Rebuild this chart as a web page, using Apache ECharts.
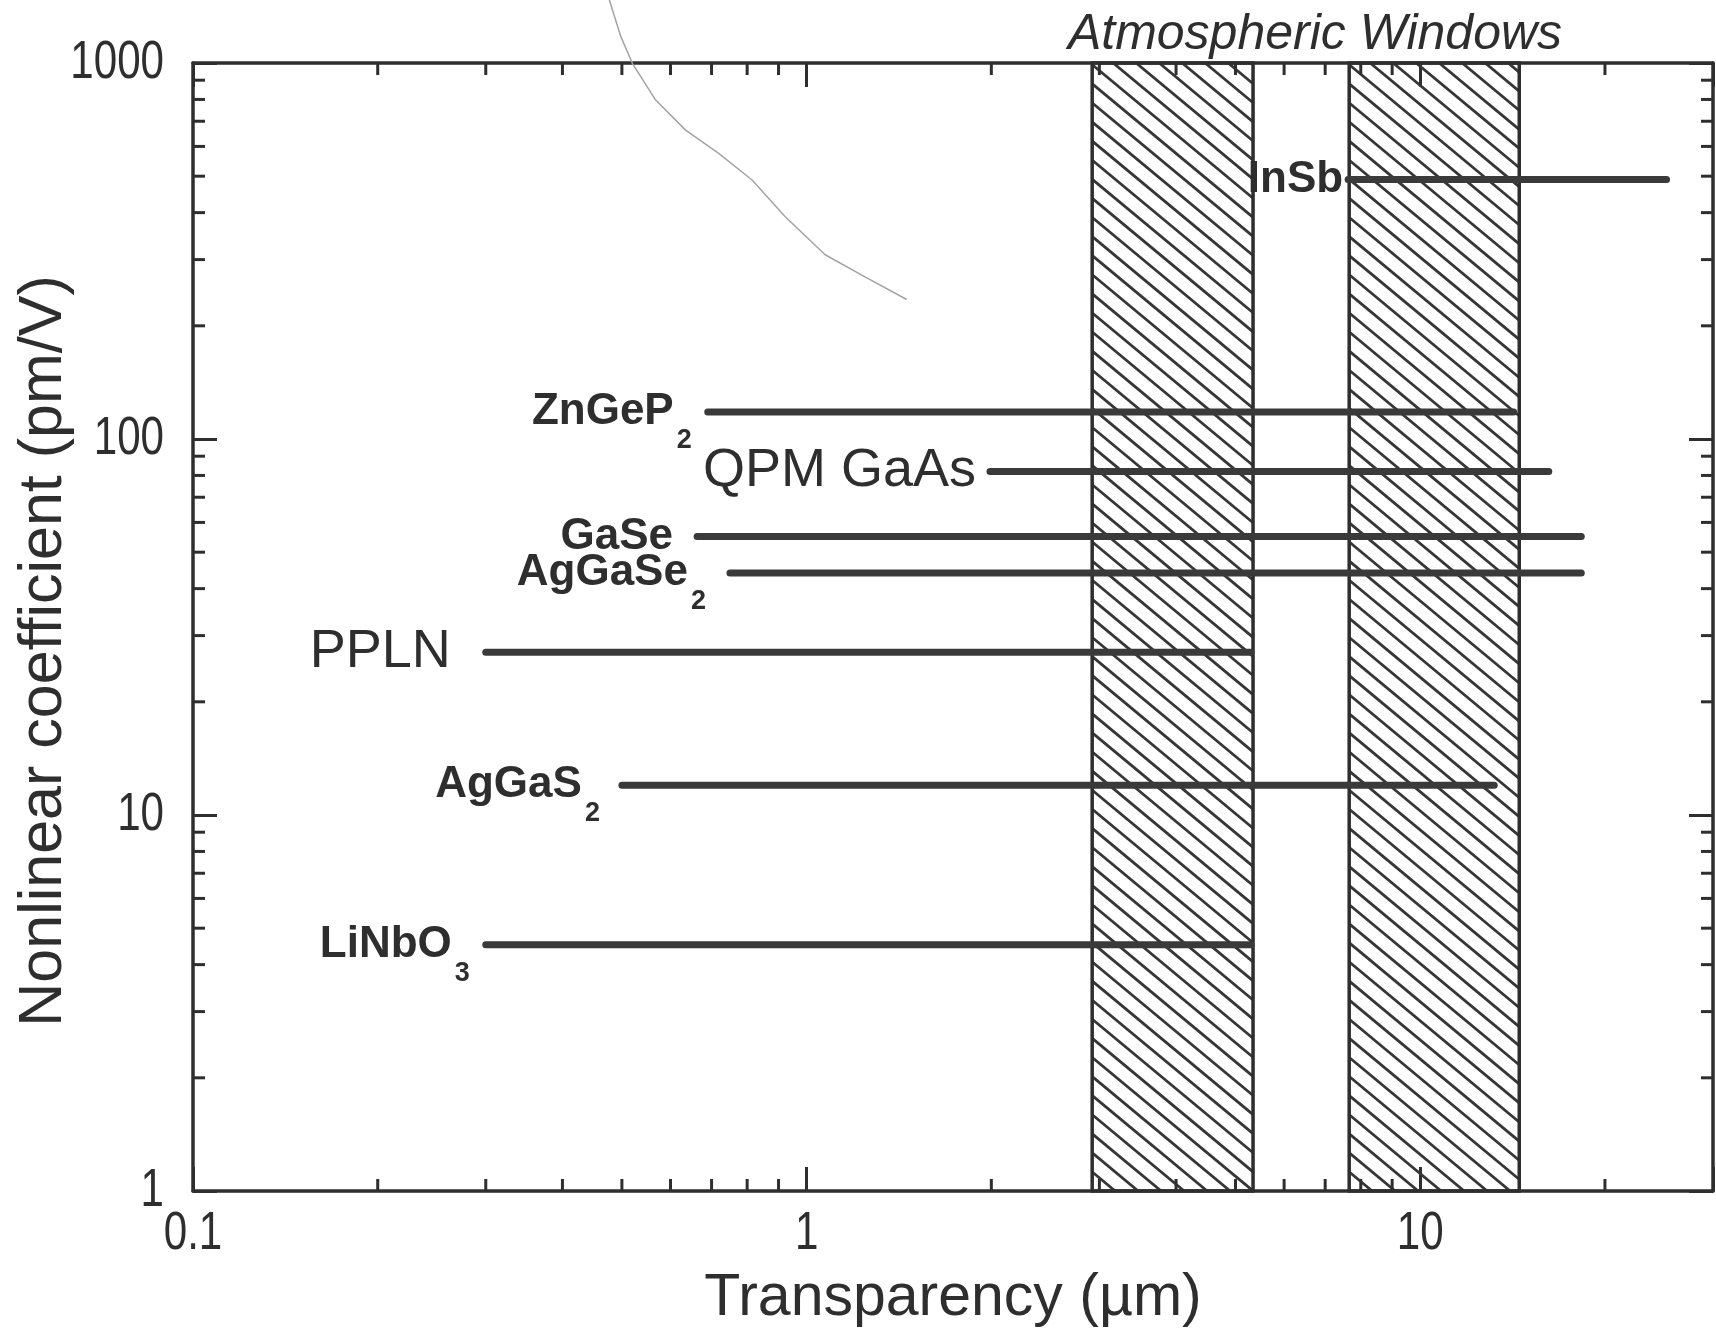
<!DOCTYPE html>
<html>
<head>
<meta charset="utf-8">
<script src="https://cdn.jsdelivr.net/npm/echarts@6/dist/echarts.min.js"></script>
<style>
html,body{margin:0;padding:0;background:#ffffff;}
#chart{width:1716px;height:1331px;}
</style>
</head>
<body>
<div id="chart"></div>
<script>
// ---------------- data ----------------
const xTickLabels = [0.1, 1, 10];
const yTickLabels = [1, 10, 100, 1000];
const xMinorTicks = [0.2, 0.3, 0.4, 0.5, 0.6, 0.7, 0.8, 0.9, 2, 3, 4, 5, 6, 7, 8, 9, 20];
const yMinorTicks = [2, 3, 4, 5, 6, 7, 8, 9, 20, 30, 40, 50, 60, 70, 80, 90, 200, 300, 400, 500, 600, 700, 800, 900];

const materials = ['InSb', 'ZnGeP2', 'QPM GaAs', 'GaSe', 'AgGaSe2', 'PPLN', 'AgGaS2', 'LiNbO3'];
const labelMain = ['InSb', 'ZnGeP', 'QPM GaAs', 'GaSe', 'AgGaSe', 'PPLN', 'AgGaS', 'LiNbO'];
const labelSub  = ['', '2', '', '', '2', '', '2', '3'];
const labelBold = [true, true, false, true, true, false, true, true];
const xStart = [7.63, 0.69, 1.99, 0.663, 0.75, 0.30, 0.50, 0.30];
const xEnd   = [25.2, 14.2, 16.2, 18.3, 18.3, 5.3, 13.2, 5.3];
const dValue = [490, 118, 82, 55, 44, 27.1, 12.0, 4.52];

const windowStart = [2.92, 7.66];
const windowEnd   = [5.34, 14.5];

// stray pencil mark on the scanned figure
const sketchX = [0.477, 0.498, 0.520, 0.5675, 0.635, 0.719, 0.815, 0.923, 1.072, 1.245, 1.456];
const sketchY = [1471, 1175, 998, 797, 663, 575, 488.5, 390, 309, 270, 235];

// ---------------- style ----------------
const INK = '#2e2e2e';
const BAR = '#3a3a3a';
const FONT = "'Liberation Sans', Arial, sans-serif";
const labelGap = [4, 15, 13, 23, 23, 34, 21, 15];
const HATCH_DX = 23;      // horizontal spacing of hatch lines
const HATCH_SLOPE = 0.83; // dy/dx of hatch lines

const chart = echarts.init(document.getElementById('chart'), null, {renderer: 'canvas'});

function numText(v) {
  return String(Number(v.toPrecision(6)));
}

const rich = {
  b: {fontFamily: FONT, fontWeight: 'bold', fontSize: 44, color: INK, lineHeight: 84},
  r: {fontFamily: FONT, fontWeight: 'normal', fontSize: 54, color: INK, lineHeight: 84},
  s: {fontFamily: FONT, fontWeight: 'bold', fontSize: 27, color: INK, lineHeight: 27, verticalAlign: 'bottom', padding: [0, 0, 0, 3]}
};
function labelFor(i) {
  const st = labelBold[i] ? 'b' : 'r';
  return labelSub[i] ? '{' + st + '|' + labelMain[i] + '}{s|' + labelSub[i] + '}' : '{' + st + '|' + labelMain[i] + '}';
}

const axisBase = {
  type: 'log',
  logBase: 10,
  nameMoveOverlap: false,
  axisLine: {show: true, onZero: false, lineStyle: {color: INK, width: 3.5}},
  axisTick: {show: true, inside: true, length: 24, lineStyle: {color: INK, width: 3}},
  axisLabel: {show: false},
  splitLine: {show: false},
  minorTick: {show: false},
  minorSplitLine: {show: false}
};

const barSeries = materials.map((m, i) => ({
  type: 'line',
  name: m,
  z: 5,
  symbol: 'circle',
  symbolSize: 2,
  showSymbol: true,
  itemStyle: {color: BAR},
  lineStyle: {color: BAR, width: 7, cap: 'round'},
  silent: true,
  animation: false,
  data: [
    {
      value: [xStart[i], dValue[i]],
      label: {show: true, position: 'left', distance: labelGap[i], formatter: labelFor(i), rich: rich}
    },
    {value: [xEnd[i], dValue[i]]}
  ]
}));

const option = {
  animation: false,
  backgroundColor: '#ffffff',
  grid: {left: 193, top: 63, right: 3, bottom: 140, containLabel: false, outerBoundsMode: 'none'},
  xAxis: [
    Object.assign({}, axisBase, {
      position: 'bottom', min: 0.1, max: 30,
      name: 'Transparency (\u00b5m)', nameLocation: 'middle', nameGap: 78,
      nameTextStyle: {fontFamily: FONT, fontSize: 59, color: INK}
    }),
    Object.assign({}, axisBase, {position: 'top', min: 0.1, max: 30})
  ],
  yAxis: [
    Object.assign({}, axisBase, {
      position: 'left', min: 1, max: 1000,
      name: 'Nonlinear coefficient (pm/V)', nameLocation: 'middle', nameRotate: 90, nameGap: 118,
      nameTextStyle: {fontFamily: FONT, fontSize: 61, color: INK, padding: [0, 48, 0, 0]}
    }),
    Object.assign({}, axisBase, {position: 'right', min: 1, max: 1000})
  ],
  graphic: [{
    type: 'text', x: 1315, y: 35, z: 10,
    style: {text: 'Atmospheric Windows', fill: INK, font: 'italic 50px ' + FONT, align: 'center', verticalAlign: 'middle'}
  }],
  series: [
    {
      type: 'custom', name: 'Atmospheric windows', z: 1, silent: true,
      xAxisIndex: 0, yAxisIndex: 0,
      data: windowStart.map((s, i) => [s, windowEnd[i]]),
      renderItem: function (params, api) {
        const cs = params.coordSys;
        const xa = api.coord([api.value(0), 1])[0];
        const xb = api.coord([api.value(1), 1])[0];
        const top = cs.y, h = cs.height, w = xb - xa;
        const run = h / HATCH_SLOPE;
        const lines = [];
        for (let off = -run; off < w; off += HATCH_DX) {
          lines.push({type: 'line', shape: {x1: xa + off, y1: top, x2: xa + off + run, y2: top + h},
            style: {stroke: '#363636', lineWidth: 2.8}});
        }
        return {type: 'group', children: [
          {type: 'group', children: lines, clipPath: {type: 'rect', shape: {x: xa, y: top, width: w, height: h}}},
          {type: 'rect', shape: {x: xa, y: top, width: w, height: h}, style: {fill: null, stroke: INK, lineWidth: 3.5}}
        ]};
      }
    },
    {
      type: 'custom', name: 'x minor ticks', z: 6, silent: true,
      data: xMinorTicks.map(v => [v, 1]),
      renderItem: function (params, api) {
        const cs = params.coordSys;
        const px = api.coord([api.value(0), 1])[0];
        const st = {stroke: INK, lineWidth: 3};
        return {type: 'group', children: [
          {type: 'line', shape: {x1: px, y1: cs.y + cs.height, x2: px, y2: cs.y + cs.height - 12}, style: st},
          {type: 'line', shape: {x1: px, y1: cs.y, x2: px, y2: cs.y + 12}, style: st}
        ]};
      }
    },
    {
      type: 'custom', name: 'y minor ticks', z: 6, silent: true,
      data: yMinorTicks.map(v => [1, v]),
      renderItem: function (params, api) {
        const cs = params.coordSys;
        const py = api.coord([1, api.value(1)])[1];
        const st = {stroke: INK, lineWidth: 3};
        return {type: 'group', children: [
          {type: 'line', shape: {x1: cs.x, y1: py, x2: cs.x + 12, y2: py}, style: st},
          {type: 'line', shape: {x1: cs.x + cs.width, y1: py, x2: cs.x + cs.width - 12, y2: py}, style: st}
        ]};
      }
    },
    {
      type: 'custom', name: 'x tick labels', z: 6, silent: true,
      data: xTickLabels.map(v => [v, 1]),
      renderItem: function (params, api) {
        const cs = params.coordSys;
        const px = api.coord([api.value(0), 1])[0];
        return {type: 'text', x: px, y: cs.y + cs.height + 43, scaleX: 0.78,
          style: {text: numText(api.value(0)), font: '54px ' + FONT, fill: INK, align: 'center', verticalAlign: 'middle'}};
      }
    },
    {
      type: 'custom', name: 'y tick labels', z: 6, silent: true,
      data: yTickLabels.map(v => [1, v]),
      renderItem: function (params, api) {
        const cs = params.coordSys;
        const py = api.coord([1, api.value(1)])[1];
        return {type: 'text', x: cs.x - 29, y: py, scaleX: 0.78,
          style: {text: numText(api.value(1)), font: '54px ' + FONT, fill: INK, align: 'right', verticalAlign: 'middle'}};
      }
    },
    {
      type: 'line', name: 'pencil mark', z: 2, silent: true, clip: false,
      symbol: 'none', smooth: false,
      lineStyle: {color: '#a3a3a3', width: 1.5},
      data: sketchX.map((x, i) => [x, sketchY[i]])
    }
  ].concat(barSeries)
};

chart.setOption(option);
</script>
</body>
</html>
